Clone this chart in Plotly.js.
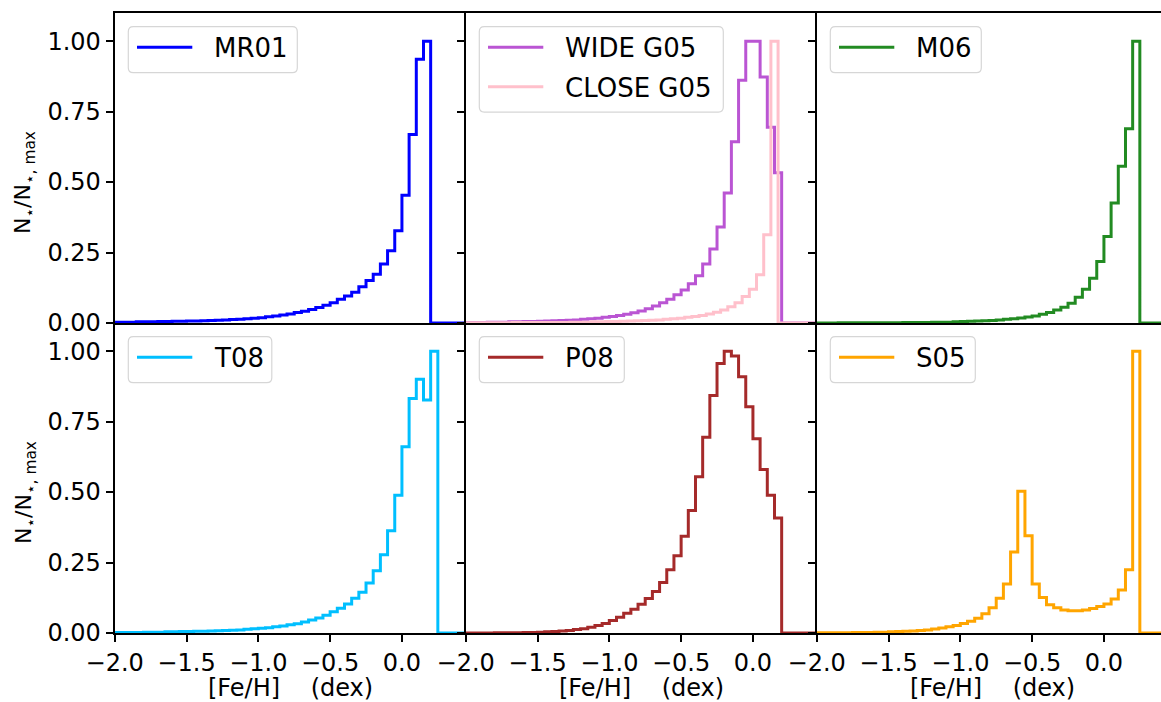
<!DOCTYPE html>
<html>
<head>
<meta charset="utf-8">
<script src="https://cdn.plot.ly/plotly-3.0.1.min.js"></script>
<style>
  html, body { margin: 0; padding: 0; background: #ffffff; }
  #chart { width: 1161px; height: 702px; }
</style>
</head>
<body>
<div id="chart"></div>
<script>
// Metallicity distribution functions, normalised to the peak bin.
// Bin edges in [Fe/H] (dex); each series value belongs to the bin starting at the same index.
const binEdges = [-2.00,-1.95,-1.90,-1.85,-1.80,-1.75,-1.70,-1.65,-1.60,-1.55,
  -1.50,-1.45,-1.40,-1.35,-1.30,-1.25,-1.20,-1.15,-1.10,-1.05,
  -1.00,-0.95,-0.90,-0.85,-0.80,-0.75,-0.70,-0.65,-0.60,-0.55,
  -0.50,-0.45,-0.40,-0.35,-0.30,-0.25,-0.20,-0.15,-0.10,-0.05,
  0.00,0.05,0.10,0.15,0.20,0.25,0.30,0.35,0.40,0.45];

const binEdgesOffset = [-2.025,-1.975,-1.925,-1.875,-1.825,-1.775,-1.725,-1.675,-1.625,-1.575,
  -1.525,-1.475,-1.425,-1.375,-1.325,-1.275,-1.225,-1.175,-1.125,-1.075,
  -1.025,-0.975,-0.925,-0.875,-0.825,-0.775,-0.725,-0.675,-0.625,-0.575,
  -0.525,-0.475,-0.425,-0.375,-0.325,-0.275,-0.225,-0.175,-0.125,-0.075,
  -0.025,0.025,0.075,0.125,0.175,0.225,0.275,0.325,0.375,0.425,0.475];

const mr01 = [0.003,0.003,0.003,0.004,0.004,0.004,0.005,0.005,0.006,0.006,
  0.007,0.007,0.008,0.009,0.010,0.011,0.012,0.013,0.015,0.017,
  0.019,0.022,0.025,0.028,0.032,0.037,0.042,0.048,0.055,0.063,
  0.072,0.084,0.096,0.109,0.129,0.151,0.173,0.209,0.256,0.327,
  0.453,0.669,0.936,1.000,0,0,0,0,0];

const wideG05 = [0.002,0.002,0.002,0.003,0.003,0.003,0.004,0.004,0.005,0.005,
  0.006,0.007,0.008,0.009,0.010,0.011,0.013,0.015,0.017,0.020,
  0.023,0.027,0.031,0.036,0.043,0.051,0.060,0.072,0.084,0.100,
  0.117,0.139,0.168,0.209,0.263,0.341,0.461,0.643,0.861,1.000,
  1.000,0.873,0.695,0.533,0,0,0,0,0];

const closeG05 = [0.001,0.001,0.001,0.001,0.001,0.001,0.001,0.002,0.002,0.002,
  0.002,0.002,0.002,0.002,0.002,0.003,0.003,0.003,0.004,0.004,
  0.005,0.005,0.006,0.007,0.008,0.009,0.010,0.011,0.013,0.015,
  0.017,0.020,0.023,0.027,0.032,0.038,0.046,0.058,0.072,0.094,
  0.120,0.171,0.313,1.000,0,0,0,0,0,0];

const m06 = [0.000,0.000,0.000,0.001,0.001,0.001,0.001,0.001,0.001,0.001,
  0.001,0.001,0.002,0.002,0.002,0.002,0.003,0.003,0.003,0.004,
  0.005,0.006,0.007,0.008,0.009,0.011,0.013,0.015,0.018,0.021,
  0.025,0.031,0.037,0.046,0.056,0.070,0.091,0.120,0.159,0.218,
  0.307,0.426,0.556,0.689,1.000,0,0,0,0];

const t08 = [0.002,0.002,0.002,0.002,0.003,0.003,0.003,0.004,0.004,0.005,
  0.005,0.006,0.006,0.007,0.008,0.009,0.010,0.011,0.013,0.015,
  0.017,0.019,0.022,0.025,0.029,0.033,0.039,0.046,0.053,0.063,
  0.075,0.088,0.103,0.123,0.145,0.177,0.221,0.278,0.363,0.489,
  0.661,0.832,0.900,0.827,1.000,0,0,0,0];

const p08 = [0.000,0.000,0.000,0.000,0.001,0.001,0.001,0.001,0.002,0.002,
  0.003,0.004,0.005,0.007,0.009,0.012,0.015,0.020,0.027,0.034,
  0.044,0.056,0.070,0.084,0.102,0.122,0.147,0.179,0.224,0.274,
  0.343,0.435,0.554,0.695,0.843,0.956,1.000,0.983,0.909,0.803,
  0.689,0.580,0.489,0.408,0,0,0,0,0];

const s05 = [0.001,0.001,0.001,0.001,0.001,0.002,0.002,0.002,0.003,0.003,
  0.004,0.005,0.006,0.007,0.009,0.011,0.014,0.018,0.022,0.027,
  0.034,0.042,0.052,0.068,0.090,0.123,0.174,0.287,0.503,0.345,
  0.174,0.126,0.100,0.090,0.082,0.079,0.079,0.082,0.087,0.094,
  0.103,0.121,0.153,0.224,1.000,0,0,0,0];

const yTickVals = [0, 0.25, 0.5, 0.75, 1.0];

// panel index: 0..2 top row, 3..5 bottom row
const series = [
  { name: 'MR01',      color: '#0000ff', edges: binEdges,       values: mr01,     panel: 0 },
  { name: 'WIDE G05',  color: '#ba55d3', edges: binEdges,       values: wideG05,  panel: 1 },
  { name: 'CLOSE G05', color: '#ffc0cb', edges: binEdgesOffset, values: closeG05, panel: 1 },
  { name: 'M06',       color: '#228b22', edges: binEdges,       values: m06,      panel: 2 },
  { name: 'T08',       color: '#00bfff', edges: binEdges,       values: t08,      panel: 3 },
  { name: 'P08',       color: '#a52a2a', edges: binEdges,       values: p08,      panel: 4 },
  { name: 'S05',       color: '#ffa500', edges: binEdges,       values: s05,      panel: 5 }
];

// ---- geometry (pixels of the 1161 x 702 canvas) ----
const W = 1161, H = 702;
const colLeft = [114.7, 465.7, 816.7];
const colRight = [465.7, 816.7, 1161];
const rowTop = [13, 323];
const rowBottom = [323, 633];
const pxPerDex = 351 / 2.444;
const fx = p => p / W;
const fy = p => 1 - p / H;

const axisId = i => (i === 0 ? '' : String(i + 1));

const traces = series.map(s => {
  const id = axisId(s.panel);
  return {
    type: 'scatter',
    mode: 'lines',
    name: s.name,
    x: s.edges.slice(0, s.values.length + 1),
    y: s.values.concat([s.values[s.values.length - 1]]),
    line: { shape: 'hv', color: s.color, width: 3 },
    xaxis: 'x' + id,
    yaxis: 'y' + id,
    showlegend: false,
    hoverinfo: 'skip'
  };
});

const layout = {
  width: W,
  height: H,
  margin: { l: 0, r: 0, t: 0, b: 0 },
  paper_bgcolor: '#ffffff',
  plot_bgcolor: '#ffffff',
  showlegend: false,
  font: { family: 'DejaVu Sans, sans-serif', color: '#000000', size: 24 },
  shapes: [],
  annotations: []
};

// Adjacent panels share their borders: only the outer frame is mirrored,
// inner borders come from the neighbouring panel's own axis line.
for (let k = 0; k < 6; k++) {
  const row = Math.floor(k / 3), col = k % 3;
  const id = axisId(k);
  const xMax = -2 + (colRight[col] - colLeft[col]) / pxPerDex;
  layout['xaxis' + id] = {
    domain: [fx(colLeft[col]), fx(colRight[col])],
    anchor: 'y' + id,
    range: [-2, xMax],
    showline: true, linecolor: '#000000', linewidth: 2, mirror: row === 0,
    ticks: row === 1 ? 'outside' : '',
    ticklen: 7, tickwidth: 2, tickcolor: '#000000',
    tick0: -2, dtick: 0.5, tickformat: '.1f',
    showticklabels: row === 1,
    tickfont: { size: 24, family: 'DejaVu Sans, sans-serif', color: '#000000' },
    showgrid: false, zeroline: false, fixedrange: true
  };
  layout['yaxis' + id] = {
    domain: [fy(rowBottom[row]), fy(rowTop[row])],
    anchor: 'x' + id,
    range: [0, 1.1],
    showline: true, linecolor: '#000000', linewidth: 2, mirror: false,
    ticks: 'outside', ticklen: 7, tickwidth: 2, tickcolor: '#000000',
    tickvals: yTickVals, tickformat: '.2f',
    showticklabels: col === 0,
    tickfont: { size: 24, family: 'DejaVu Sans, sans-serif', color: '#000000' },
    showgrid: false, zeroline: false, fixedrange: true
  };
}

// axis titles
for (let col = 0; col < 3; col++) {
  layout.annotations.push({
    text: '[Fe/H]\u00a0\u00a0\u00a0\u00a0(dex)',
    xref: 'paper', yref: 'paper',
    x: fx(colLeft[col] + 175.5), y: fy(688),
    xanchor: 'center', yanchor: 'middle', showarrow: false,
    font: { size: 24, family: 'DejaVu Sans, sans-serif', color: '#000000' }
  });
}
const yTitleCenters = [183, 493];
for (let row = 0; row < 2; row++) {
  layout.annotations.push({
    text: 'N<sub>\u22c6</sub>/N<sub>\u22c6, max</sub>',
    xref: 'paper', yref: 'paper',
    x: fx(25), y: fy(yTitleCenters[row]),
    xanchor: 'center', yanchor: 'middle', showarrow: false, textangle: -90,
    font: { size: 22, family: 'DejaVu Sans, sans-serif', color: '#000000' }
  });
}

// per-panel legends: rounded box, line sample and label
const legendBoxWidth = [169, 244, 151, 143.5, 145, 145];
function roundRectPath(x0, y0, w, h, r) {
  const P = (x, y) => fx(x) + ',' + fy(y);
  return 'M' + P(x0 + r, y0) + ' L' + P(x0 + w - r, y0) +
    ' Q' + P(x0 + w, y0) + ' ' + P(x0 + w, y0 + r) +
    ' L' + P(x0 + w, y0 + h - r) +
    ' Q' + P(x0 + w, y0 + h) + ' ' + P(x0 + w - r, y0 + h) +
    ' L' + P(x0 + r, y0 + h) +
    ' Q' + P(x0, y0 + h) + ' ' + P(x0, y0 + h - r) +
    ' L' + P(x0, y0 + r) +
    ' Q' + P(x0, y0) + ' ' + P(x0 + r, y0) + ' Z';
}
for (let k = 0; k < 6; k++) {
  const row = Math.floor(k / 3), col = k % 3;
  const items = series.filter(s => s.panel === k);
  const bx = colLeft[col] + 13.6, by = rowTop[row] + 13.7;
  const step = 39.4;
  const bh = 46 + step * (items.length - 1);
  layout.shapes.push({
    type: 'path', xref: 'paper', yref: 'paper', layer: 'above',
    path: roundRectPath(bx, by, legendBoxWidth[k], bh, 5),
    fillcolor: 'rgba(255,255,255,0.8)',
    line: { color: '#d6d6d6', width: 1.2 }
  });
  items.forEach((s, i) => {
    const cy = by + 20.6 + step * i;
    layout.shapes.push({
      type: 'line', xref: 'paper', yref: 'paper', layer: 'above',
      x0: fx(bx + 8.7), x1: fx(bx + 64), y0: fy(cy), y1: fy(cy),
      line: { color: s.color, width: 3 }
    });
    layout.annotations.push({
      text: s.name, xref: 'paper', yref: 'paper',
      x: fx(bx + 84), y: fy(cy + 1), xanchor: 'left', yanchor: 'middle',
      showarrow: false,
      font: { size: 26, family: 'DejaVu Sans, sans-serif', color: '#000000' }
    });
  });
}

Plotly.newPlot('chart', traces, layout, { displayModeBar: false, staticPlot: true });
</script>
</body>
</html>
